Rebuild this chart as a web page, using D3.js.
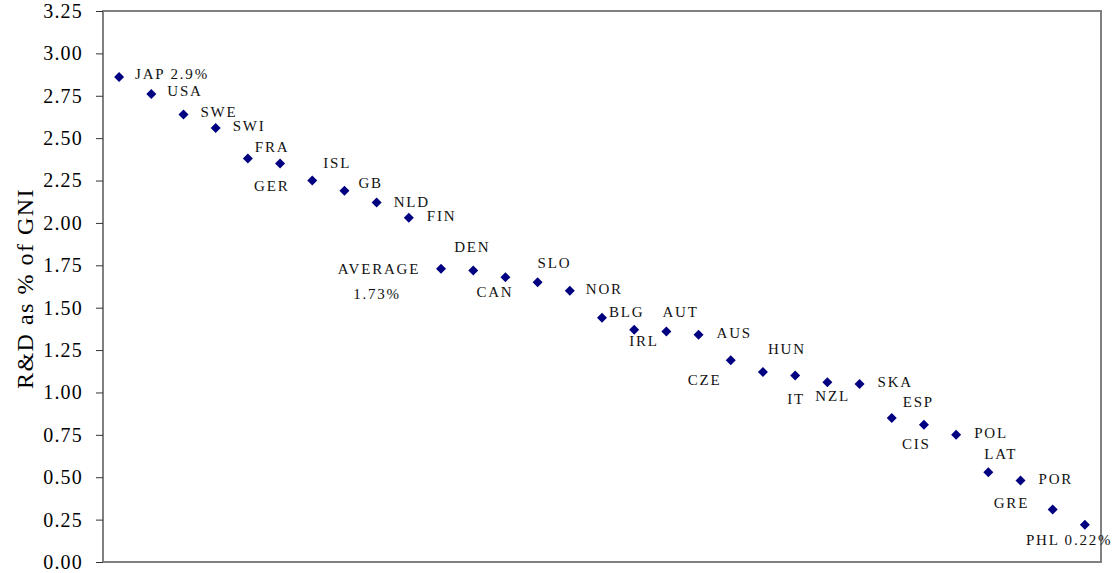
<!DOCTYPE html>
<html>
<head>
<meta charset="utf-8">
<script src="https://cdn.jsdelivr.net/npm/d3@7"></script>
<style>
  html, body { margin: 0; padding: 0; background: #fff; }
  svg { display: block; }
</style>
</head>
<body>
<svg id="chart" width="1117" height="573"></svg>
<script>
// R&D spending as a share of GNI, by country (sorted high to low)
const countries = ["JAP", "USA", "SWE", "SWI", "FRA", "GER", "ISL", "GB", "NLD", "FIN",
  "AVERAGE", "DEN", "CAN", "SLO", "NOR", "BLG", "IRL", "AUT", "AUS", "CZE",
  "HUN", "IT", "NZL", "SKA", "ESP", "CIS", "POL", "LAT", "POR", "GRE", "PHL"];
const rdShare = [2.86, 2.76, 2.64, 2.56, 2.38, 2.35, 2.25, 2.19, 2.12, 2.03,
  1.73, 1.72, 1.68, 1.65, 1.60, 1.44, 1.37, 1.36, 1.34, 1.19,
  1.12, 1.10, 1.06, 1.05, 0.85, 0.81, 0.75, 0.53, 0.48, 0.31, 0.22];
const yTicks = [0, 0.25, 0.5, 0.75, 1, 1.25, 1.5, 1.75, 2, 2.25, 2.5, 2.75, 3, 3.25];
const yTitle = "R&D as % of GNI";
// Points whose label also carries the value, with its number format
const valueFormats = { JAP: ".1f", AVERAGE: ".2f", PHL: ".2f" };

// Label placement relative to each marker: [dx, dy] to text start / baseline
const labelOffsets = {
  JAP: [16, 2], USA: [16, 2], SWE: [17, 3], SWI: [17, 3], FRA: [7, -6],
  GER: [-26, 27], ISL: [11, -13], GB: [14, -3], NLD: [17, 4], FIN: [18, 3],
  DEN: [-19, -18], CAN: [-29, 20], SLO: [0, -14], NOR: [16, 3], BLG: [7, -1],
  IRL: [-5, 16], AUT: [-4, -14], AUS: [18, 3], CZE: [-43, 25], HUN: [5, -18],
  IT: [-8, 28], NZL: [-12, 19], SKA: [18, 3], ESP: [11, -11], CIS: [-22, 24],
  POL: [18, 3], LAT: [-4, -13], POR: [18, 3], GRE: [-59, -1], PHL: [-59, 20]
};

const svg = d3.select("#chart");
const plot = { left: 103, top: 11, right: 1101, bottom: 562 };

const x = d3.scalePoint()
  .domain(countries)
  .range([plot.left, plot.right])
  .padding(0.5);

const y = d3.scaleLinear()
  .domain([0, 3.25])
  .range([plot.bottom, plot.top]);

const frameColor = "#808080";
const serif = "'Liberation Serif', 'Times New Roman', serif";

// Plot-area frame (left and bottom edges double as axis lines)
svg.append("rect")
  .attr("x", plot.left)
  .attr("y", plot.top)
  .attr("width", plot.right - plot.left)
  .attr("height", plot.bottom - plot.top)
  .attr("fill", "none")
  .attr("stroke", frameColor)
  .attr("stroke-width", 2);

// Left value axis
const yAxis = svg.append("g")
  .attr("transform", `translate(${plot.left},0)`)
  .call(d3.axisLeft(y)
    .tickValues(yTicks)
    .tickFormat(d3.format(".2f"))
    .tickSize(7)
    .tickPadding(13));
yAxis.select(".domain").remove();
yAxis.selectAll(".tick line")
  .attr("stroke", "#333")
  .attr("stroke-width", 1);
yAxis.selectAll(".tick text")
  .attr("font-family", serif)
  .attr("font-size", 20)
  .attr("letter-spacing", "1.2px")
  .attr("fill", "#000");

// Axis title
svg.append("text")
  .attr("transform", `translate(33,${(plot.top + plot.bottom) / 2 + 2}) rotate(-90)`)
  .attr("text-anchor", "middle")
  .attr("font-family", serif)
  .attr("font-size", 24)
  .attr("letter-spacing", "1.5px")
  .attr("fill", "#000")
  .text(yTitle);

const data = countries.map((c, i) => ({ code: c, value: rdShare[i] }));

// Diamond markers
const diamond = d3.symbol().type(d3.symbolSquare).size(50);
svg.append("g")
  .selectAll("path")
  .data(data)
  .join("path")
  .attr("d", diamond)
  .attr("transform", d => `translate(${x(d.code)},${y(d.value)}) rotate(45)`)
  .attr("fill", "#000080");

// Data labels
const labels = svg.append("g")
  .attr("font-family", serif)
  .attr("font-size", 15)
  .attr("letter-spacing", "1.8px")
  .attr("fill", "#111");

data.forEach(d => {
  const px = x(d.code), py = y(d.value);
  const fmt = valueFormats[d.code];
  if (d.code === "AVERAGE") {
    const t = labels.append("text")
      .attr("text-anchor", "middle");
    t.append("tspan")
      .attr("x", px - 62)
      .attr("y", py + 5)
      .text("AVERAGE");
    t.append("tspan")
      .attr("x", px - 64)
      .attr("y", py + 30)
      .text(d3.format(fmt)(d.value) + "%");
    return;
  }
  const [dx, dy] = labelOffsets[d.code];
  labels.append("text")
    .attr("x", px + dx)
    .attr("y", py + dy)
    .text(fmt ? `${d.code} ${d3.format(fmt)(d.value)}%` : d.code);
});
</script>
</body>
</html>
